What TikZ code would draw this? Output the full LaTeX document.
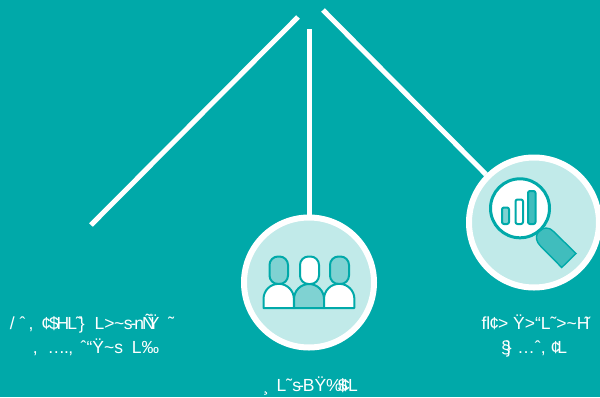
\documentclass[tikz,border=0pt]{standalone}
\usepackage{fontspec}
\setmainfont{Liberation Sans}
\definecolor{bgteal}{HTML}{00A9A9}
\definecolor{paleteal}{HTML}{C1EAE9}
\definecolor{midteal}{HTML}{7FD2D2}
\definecolor{handleteal}{HTML}{40BDBD}
\tikzset{
 x=1pt,y=-1pt,
 spoke/.style={draw=white,line width=5pt},
 disc/.style={circle,draw=white,line width=6pt,fill=paleteal,minimum size=130pt,inner sep=0pt},
 lbl/.style={text=white,font=\fontsize{17.5}{17.5}\selectfont,inner sep=0pt,anchor=base},
 iconline/.style={draw=bgteal,line width=2pt,line join=round},
 headw/.style={iconline,fill=white,rounded corners=8.5pt},
 headm/.style={iconline,fill=midteal,rounded corners=8.5pt},
}
\begin{document}
\begin{tikzpicture}
\useasboundingbox (0,0) rectangle (600,397);
\fill[bgteal] (0,0) rectangle (600,397);
\coordinate (a1) at (298,17); \coordinate (a2) at (91,225);
\coordinate (b1) at (309,29);
\coordinate (c1) at (323,10);
\draw[spoke] (a1) -- (a2);
\node[disc] (people) at (309,282.5) {};
\node[disc] (lens) at (534,222.5) {};
\draw[spoke] (b1) -- (people.north);
\draw[spoke] (c1) -- (lens.north west);
% people
\draw[headm] (269.5,256.5) rectangle (288,284);
\draw[headw] (300,256.5) rectangle (319,284);
\draw[headm] (330,256.5) rectangle (349,284);
\draw[iconline,fill=white] (263.5,308) -- (263.5,299) arc[start angle=180,delta angle=180,radius=15.2] -- (294,308) -- cycle;
\draw[iconline,fill=midteal] (294,308) -- (294,299) arc[start angle=180,delta angle=180,radius=15] -- (324,308) -- cycle;
\draw[iconline,fill=white] (324,308) -- (324,299) arc[start angle=180,delta angle=180,radius=15.2] -- (354.4,308) -- cycle;
% magnifier
\draw[bgteal,line width=1.4pt,fill=handleteal,line join=miter] (576,253.5) -- (561.7,267.5) -- (540,245.5) .. controls (533,238) and (537,229) .. (546,228) .. controls (549,228) and (551,229) .. (553,231) -- cycle;
\draw[iconline,line width=3pt,fill=white] (520,208.3) circle[radius=29.5];
\draw[iconline,fill=midteal,rounded corners=2pt] (502,207.5) rectangle (509,224);
\draw[iconline,fill=white,rounded corners=2pt] (515.5,199.5) rectangle (523,224);
\draw[iconline,fill=handleteal,rounded corners=2pt] (528,191) rectangle (535.5,224);
% labels
\node[lbl] (t1) at (92,329) {/\kern5ptˆ\kern3pt, \kern3pt¢\kern-2pt\$\kern-2pt H\kern-2pt L\kern-1pt˜\kern-3pt\} \kern5pt L>\kern-0.5pt\textasciitilde\kern-0.5pt s\kern-2pt-\kern-2pt n\kern-2ptÑ\kern-7ptŸ \kern4pt˜};
\node[lbl] (t2) at (96,353) {, \kern5pt…\kern-1pt.‚ \kern3ptˆ“Ÿ\textasciitilde s \kern4pt L‰};
\node[lbl] (t3) at (536,329) {fl\kern-1pt¢\kern-1pt> Ÿ>“L˜>\textasciitilde H\kern-5pt˜};
\node[lbl] (t4) at (534,353) {§\kern-5pt\} \kern1pt…ˆ, ¢\kern-3pt L};
\node[lbl] (t5) at (310.5,391) {¸ \kern3pt L˜s\kern-3pt-\kern-1pt BŸ\%\kern-4pt\$\kern-7pt¢\kern-2pt L};
\end{tikzpicture}
\end{document}
